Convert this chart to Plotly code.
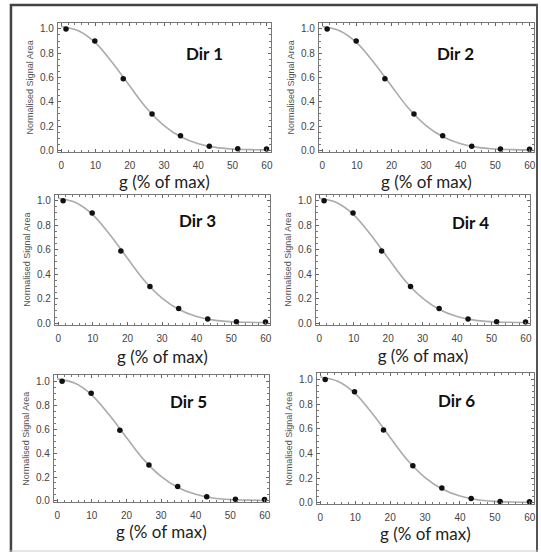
import plotly.graph_objects as go

W, H = 541, 558

# ---- data ----
g_points = [1.4, 9.8, 18.1, 26.5, 34.8, 43.2, 51.5, 59.9]
dir1 = [1.00, 0.90, 0.59, 0.30, 0.12, 0.035, 0.015, 0.012]
dir2 = [1.00, 0.90, 0.59, 0.30, 0.12, 0.035, 0.012, 0.010]
dir3 = [1.00, 0.90, 0.59, 0.30, 0.12, 0.035, 0.012, 0.010]
dir4 = [1.00, 0.90, 0.59, 0.30, 0.12, 0.035, 0.012, 0.010]
dir5 = [1.00, 0.90, 0.59, 0.30, 0.12, 0.035, 0.015, 0.012]
dir6 = [1.00, 0.90, 0.59, 0.30, 0.12, 0.035, 0.012, 0.010]
series = [dir1, dir2, dir3, dir4, dir5, dir6]
labels = ["Dir 1", "Dir 2", "Dir 3", "Dir 4", "Dir 5", "Dir 6"]

# fitted curve
g_curve = [0, 5, 10, 15, 20, 25, 30, 35, 40, 45, 50, 55, 60]
fit_curve = [1.02, 0.985, 0.885, 0.72, 0.53, 0.345, 0.205, 0.11, 0.055, 0.025, 0.012, 0.007, 0.005]

x_ticks = [0, 10, 20, 30, 40, 50, 60]
y_ticks = [0.0, 0.2, 0.4, 0.6, 0.8, 1.0]

# label positions (data coords) for "Dir N"
label_x = [41.7, 38.5, 40.2, 43.8, 37.9, 39.0]
label_y = [0.80, 0.80, 0.84, 0.82, 0.83, 0.83]

# ---- layout geometry (pixels: x0, x1, y0, y1) ----
boxes = [
    (58, 272, 23, 153),
    (320, 536, 23, 153),
    (55, 271, 196, 327),
    (317, 532, 196, 327),
    (54, 270, 378, 506),
    (318, 536, 376, 508),
]
xstand = [2, 2, 8, 7, 3, 5]

fig = go.Figure()
for i, (ys, lab) in enumerate(zip(series, labels)):
    n = i + 1
    xa = "x" if n == 1 else f"x{n}"
    ya = "y" if n == 1 else f"y{n}"
    fig.add_trace(go.Scatter(x=g_curve, y=fit_curve, mode="lines",
                             line=dict(color="#ababab", width=1.6, shape="spline"),
                             xaxis=xa, yaxis=ya, showlegend=False, hoverinfo="skip"))
    fig.add_trace(go.Scatter(x=g_points, y=ys, mode="markers",
                             marker=dict(color="#111111", size=5.5),
                             xaxis=xa, yaxis=ya, showlegend=False))
    x0, x1, y0, y1 = boxes[i]
    axstyle = dict(showline=True, linecolor="#777777", linewidth=1, mirror="allticks",
                   ticks="inside", ticklen=3, tickcolor="#666666",
                   showgrid=False, zeroline=False,
                   tickfont=dict(family="Liberation Sans, Arial", size=10, color="#444444"))
    xkey = "xaxis" if n == 1 else f"xaxis{n}"
    ykey = "yaxis" if n == 1 else f"yaxis{n}"
    fig.update_layout({
        xkey: dict(domain=[x0 / W, x1 / W], anchor=ya, range=[-1.0, 61.2],
                   tickvals=x_ticks, ticklabelstandoff=4,
                   minor=dict(ticks="inside", ticklen=2, dtick=2, tickcolor="#777777"),
                   title=dict(text="g (% of max)", standoff=xstand[i],
                              font=dict(family="Lato, Open Sans", size=17, color="#222222")),
                   **axstyle),
        ykey: dict(domain=[1 - y1 / H, 1 - y0 / H], anchor=xa, range=[-0.012, 1.05],
                   tickvals=y_ticks, tickformat=".1f", ticklabelstandoff=1,
                   minor=dict(ticks="inside", ticklen=2, dtick=0.05, tickcolor="#777777"),
                   title=dict(text="Normalised Signal Area", standoff=4,
                              font=dict(family="Liberation Sans, Arial", size=9, color="#555555")),
                   **axstyle),
    })
    fig.add_annotation(x=label_x[i], y=label_y[i], xref=xa, yref=ya, text=f"<b>{lab}</b>",
                       showarrow=False,
                       font=dict(family="Lato, Open Sans", size=17, color="#111111"))

# outer frame
fig.add_shape(type="line", xref="paper", yref="paper", x0=11 / W, x1=11 / W, y0=1 - 556 / H, y1=1 - 4 / H,
              line=dict(color="#444444", width=2.5))
fig.add_shape(type="line", xref="paper", yref="paper", x0=10 / W, x1=540 / W, y0=1 - 5 / H, y1=1 - 5 / H,
              line=dict(color="#444444", width=2.5))
fig.add_shape(type="line", xref="paper", yref="paper", x0=539 / W, x1=539 / W, y0=1 - 556 / H, y1=1 - 4 / H,
              line=dict(color="#555555", width=2))
fig.add_shape(type="line", xref="paper", yref="paper", x0=10 / W, x1=540 / W, y0=1 - 555 / H, y1=1 - 555 / H,
              line=dict(color="#cccccc", width=1))

fig.update_layout(width=W, height=H, margin=dict(l=0, r=0, t=0, b=0),
                  paper_bgcolor="white", plot_bgcolor="white", showlegend=False)

fig.write_html("out.html")
